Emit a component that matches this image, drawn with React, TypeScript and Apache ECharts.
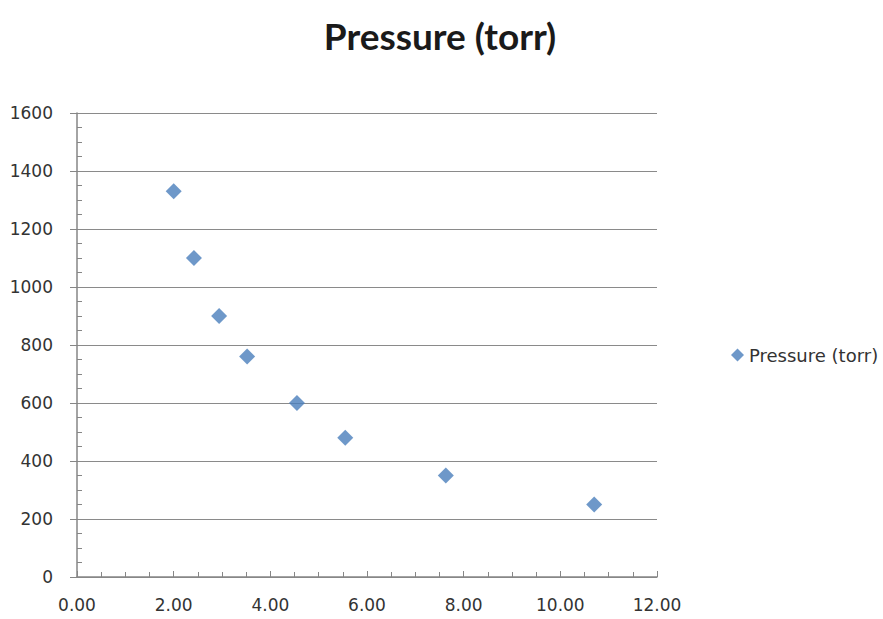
import React, { useEffect, useRef } from "react";
import * as echarts from "echarts";

const seriesName = "Pressure (torr)";
const volumes = [2.0, 2.42, 2.94, 3.52, 4.55, 5.55, 7.63, 10.7];
const pressures = [1330, 1100, 900, 760, 600, 480, 350, 250];
const xMin = 0, xMax = 12, xStep = 2;
const yMin = 0, yMax = 1600, yStep = 200;

export default function App() {
  const ref = useRef<HTMLDivElement>(null);
  useEffect(() => {
    const chart = echarts.init(ref.current!, null, { renderer: "svg" });
    const axisColor = "#868686";
    chart.setOption({
      animation: false,
      backgroundColor: "#ffffff",
      title: {
        text: seriesName,
        left: 435,
        textAlign: "center",
        top: 12,
        textStyle: { fontFamily: "Lato", fontWeight: "bold", fontSize: 37, color: "#1a1a1a" },
      },
      legend: {
        left: 726,
        top: 341,
        orient: "vertical",
        itemWidth: 13,
        itemHeight: 13,
        itemGap: 4,
        textStyle: { fontFamily: "DejaVu Sans", fontSize: 18, color: "#333" },
        data: [{ name: seriesName, icon: "diamond" }],
      },
      grid: { left: 77, right: 226, top: 113, bottom: 42, containLabel: false },
      xAxis: {
        type: "value",
        min: xMin,
        max: xMax,
        interval: xStep,
        axisLine: { show: true, onZero: false, lineStyle: { color: axisColor, width: 1.5 } },
        axisTick: { show: true, length: 6, inside: true, lineStyle: { color: axisColor } },
        minorTick: { show: true, splitNumber: 4, length: 5, lineStyle: { color: axisColor } },
        splitLine: { show: false },
        axisLabel: {
          margin: 19,
          fontFamily: "DejaVu Sans",
          fontSize: 17,
          color: "#333",
          formatter: (v: number) => v.toFixed(2),
        },
      },
      yAxis: [
        {
          type: "value",
          min: yMin,
          max: yMax,
          interval: yStep,
          axisLine: { show: true, lineStyle: { color: axisColor, width: 1.5 } },
          axisTick: { show: true, length: 7, lineStyle: { color: axisColor } },
          splitLine: { show: true, lineStyle: { color: "#8a8a8a", width: 1 } },
          axisLabel: {
            margin: 24,
            fontFamily: "DejaVu Sans",
            fontSize: 17,
            color: "#333",
            formatter: (v: number) => String(v),
          },
        },
        {
          type: "value",
          position: "left",
          min: yMin,
          max: yMax,
          interval: yStep,
          axisLine: { show: false },
          axisTick: { show: false, inside: true },
          minorTick: { show: true, splitNumber: 4, length: 5, lineStyle: { color: axisColor } },
          splitLine: { show: false },
          axisLabel: { show: false },
        },
      ],
      series: [
        {
          name: seriesName,
          type: "scatter",
          symbol: "diamond",
          symbolSize: 16,
          itemStyle: { color: "#4A7EBB" },
          data: volumes.map((v, i) => [v, pressures[i]]),
        },
      ],
    });
    return () => chart.dispose();
  }, []);
  return (
    <div
      ref={ref}
      style={{ position: "absolute", left: 0, top: 0, width: 883, height: 619 }}
    />
  );
}
